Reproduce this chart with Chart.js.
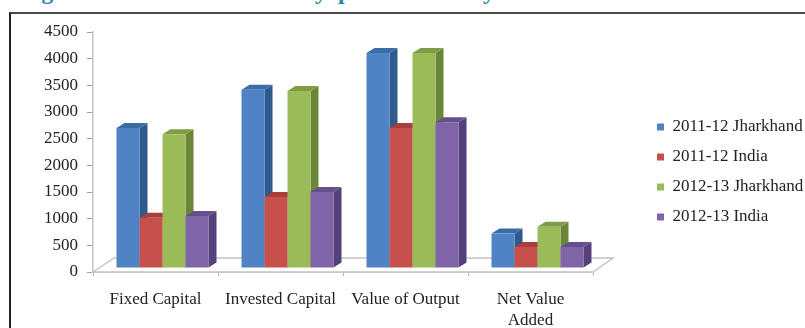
<!DOCTYPE html>
<html>
<head>
<meta charset="utf-8">
<script src="https://cdn.jsdelivr.net/npm/chart.js@4/dist/chart.umd.min.js"></script>
<style>
  html, body { margin: 0; padding: 0; background: #fff; overflow: hidden; }
  #page { position: relative; width: 805px; height: 328px; overflow: hidden; }
  #frame { position: absolute; left: 9px; top: 12px; right: 0; bottom: 0; border-top: 2px solid #4a4a4a; border-left: 2px solid #222; }
  canvas { position: absolute; left: 0; top: 0; }
  .head { position: absolute; top: -22px; font: bold 24px/26px "Liberation Serif", serif; color: #2a87a5; white-space: pre; }
</style>
</head>
<body>
<div id="page">
  <span class="head" style="left:20px">Fig</span>
  <span class="head" style="left:315px">y</span>
  <span class="head" style="left:338px">p</span>
  <span class="head" style="left:483px">y</span>
  <div id="frame"></div>
  <canvas id="chart" width="805" height="328"></canvas>
</div>
<script>
const categories = ['Fixed Capital', 'Invested Capital', 'Value of Output', ['Net Value', 'Added']]
const seriesNames = ['2011-12 Jharkhand', '2011-12 India', '2012-13 Jharkhand', '2012-13 India']
const jharkhand1112 = [2625, 3340, 4030, 645]
const india1112 = [940, 1330, 2625, 395]
const jharkhand1213 = [2510, 3320, 4030, 775]
const india1213 = [975, 1425, 2735, 395]

const frontColors = ['#4f83c4', '#c8504c', '#9bbb59', '#8064a8']
const sideColors = ['#2f5a8e', '#8e3533', '#6c8639', '#54407a']
const topColors = ['#3a6ca8', '#a83f3c', '#7f9c46', '#65508c']

const PLOT_RIGHT = 593
const DEPTH_X = 8
const DEPTH_Y = 5

// bars sit a little inside the floor, not on its front edge
const BAR_SHIFT_X = 7
const BAR_SHIFT_Y = -4

function drawDepth(ctx, meta, i) {
  meta.data.forEach(bar => {
    const r = bar.x + bar.width / 2
    const l = bar.x - bar.width / 2
    ctx.fillStyle = sideColors[i]
    ctx.beginPath()
    ctx.moveTo(r, bar.y)
    ctx.lineTo(r + DEPTH_X, bar.y - DEPTH_Y)
    ctx.lineTo(r + DEPTH_X, bar.base - DEPTH_Y)
    ctx.lineTo(r, bar.base)
    ctx.closePath()
    ctx.fill()
    ctx.fillStyle = topColors[i]
    ctx.beginPath()
    ctx.moveTo(l, bar.y)
    ctx.lineTo(l + DEPTH_X, bar.y - DEPTH_Y)
    ctx.lineTo(r + DEPTH_X, bar.y - DEPTH_Y)
    ctx.lineTo(r, bar.y)
    ctx.closePath()
    ctx.fill()
  })
}

const fake3d = {
  id: 'fake3d',
  beforeInit(chart) {
    // legend keeps the whole strip right of the plot
    const fit = chart.legend.fit
    chart.legend.fit = function () {
      fit.call(this)
      this.width = 805 - PLOT_RIGHT
    }
  },
  afterLayout(chart) {
    chart.legend.left += 51
    chart.legend.top -= 8
    chart.legend.bottom -= 8
    chart.legend.adjustHitBoxes()
  },
  beforeDatasetsDraw(chart) {
    const { ctx, chartArea, scales } = chart
    const y0 = scales.y.getPixelForValue(0)
    ctx.save()
    ctx.fillStyle = '#fff'
    ctx.strokeStyle = '#c4c4c4'
    ctx.lineWidth = 1.5
    ctx.beginPath()
    ctx.moveTo(chartArea.left, y0)
    ctx.lineTo(chartArea.left + 21, y0 - 14)
    ctx.lineTo(chartArea.right + 20, y0 - 14)
    ctx.lineTo(chartArea.right, y0)
    ctx.closePath()
    ctx.fill()
    ctx.stroke()

    // Chart.js paints the last dataset first, here blue has to go first
    // so each next bar covers the side of the previous one
    ctx.translate(BAR_SHIFT_X, BAR_SHIFT_Y)
    chart.data.datasets.forEach((ds, i) => {
      const meta = chart.getDatasetMeta(i)
      drawDepth(ctx, meta, i)
      meta.controller.draw()
    })
    ctx.restore()
  },
  beforeDatasetDraw() {
    return false // already painted above
  },
}

const values = [jharkhand1112, india1112, jharkhand1213, india1213]
const textFont = { family: '"Liberation Serif", serif', size: 17, lineHeight: 1.18 }

new Chart(document.getElementById('chart'), {
  type: 'bar',
  data: {
    labels: categories,
    datasets: seriesNames.map((name, i) => ({
      label: name,
      data: values[i],
      backgroundColor: frontColors[i],
      borderWidth: 0,
    })),
  },
  options: {
    responsive: false,
    animation: false,
    categoryPercentage: 0.736,
    barPercentage: 1,
    layout: { padding: { top: 32, bottom: 0, left: 0, right: 0 } },
    plugins: {
      tooltip: { enabled: false },
      legend: {
        position: 'right',
        align: 'center',
        labels: { boxWidth: 7, boxHeight: 7, padding: 13, color: '#222', font: textFont },
      },
    },
    scales: {
      x: {
        afterFit(scale) { scale.height = 56 },
        border: { color: '#b4b4b4', width: 1.5 },
        grid: { drawOnChartArea: false, drawTicks: true, tickLength: 4, color: '#b4b4b4' },
        ticks: { color: '#222', font: textFont, maxRotation: 0, padding: 14 },
      },
      y: {
        min: 0,
        max: 4500,
        afterFit(scale) { scale.width = 93 },
        border: { color: '#c4c4c4', width: 1.5 },
        grid: { drawOnChartArea: false, drawTicks: true, tickLength: 6, color: '#a0a0a0' },
        ticks: { stepSize: 500, color: '#222', font: textFont, padding: 9, callback: v => String(v) },
      },
    },
  },
  plugins: [fake3d],
})
</script>
</body>
</html>
